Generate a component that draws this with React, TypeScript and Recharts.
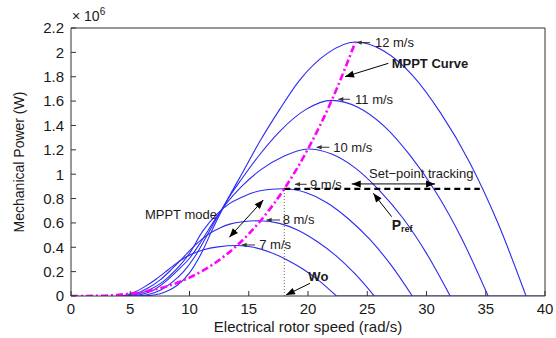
import { LineChart, Line, XAxis, YAxis, ReferenceLine, ReferenceDot } from 'recharts';

// rotor speed (rad/s), mechanical power (x 10^6 W)
const curve7 = [[4.2, 0], [5.2, 0.025], [6.2, 0.075], [7.2, 0.14], [8.2, 0.215], [9.2, 0.29], [10.2, 0.345], [11.2, 0.38], [12.4, 0.403], [14.0, 0.414], [15.4, 0.4], [16.8, 0.36], [18.2, 0.298], [19.6, 0.219], [21.0, 0.12], [22.4, 0]];
const curve8 = [[4.5, 0], [5.5, 0.02], [6.5, 0.065], [7.5, 0.13], [8.5, 0.22], [9.5, 0.32], [10.5, 0.42], [11.5, 0.5], [12.6, 0.56], [13.4, 0.59], [14.5, 0.61], [16.0, 0.618], [17.6, 0.596], [19.2, 0.538], [20.8, 0.445], [22.4, 0.328], [24.0, 0.179], [25.6, 0]];
const curve9 = [[4.8, 0], [5.8, 0.02], [6.8, 0.06], [7.8, 0.12], [8.8, 0.21], [10.0, 0.35], [11.1, 0.53], [12.3, 0.67], [13.4, 0.76], [14.4, 0.81], [15.4, 0.85], [16.5, 0.872], [18.0, 0.88], [19.8, 0.849], [21.6, 0.766], [23.4, 0.634], [25.2, 0.466], [27.0, 0.255], [28.8, 0]];
const curve10 = [[5.0, 0], [6.0, 0.015], [7.0, 0.05], [8.0, 0.12], [9.0, 0.21], [10.0, 0.31], [11.0, 0.45], [12.3, 0.65], [13.2, 0.77], [14.4, 0.9], [16.0, 1.035], [18.0, 1.15], [20.0, 1.207], [22.0, 1.165], [24.0, 1.05], [26.0, 0.869], [28.0, 0.64], [30.0, 0.35], [32.0, 0]];
const curve11 = [[5.5, 0], [6.5, 0.012], [7.5, 0.045], [8.5, 0.11], [9.5, 0.2], [10.5, 0.33], [11.5, 0.5], [12.3, 0.64], [13.2, 0.79], [14.4, 0.96], [16.0, 1.17], [17.6, 1.35], [19.8, 1.53], [22.0, 1.606], [24.2, 1.55], [26.4, 1.397], [28.6, 1.156], [30.8, 0.851], [33.0, 0.466], [35.2, 0]];
const curve12 = [[6.0, 0], [7.0, 0.008], [8.0, 0.035], [9.0, 0.09], [10.0, 0.19], [11.0, 0.35], [12.0, 0.56], [13.2, 0.79], [14.4, 1.0], [16.0, 1.28], [17.6, 1.53], [19.2, 1.76], [21.6, 1.99], [24.0, 2.085], [26.4, 2.012], [28.8, 1.814], [31.2, 1.501], [33.6, 1.105], [36.0, 0.605], [38.4, 0]];
const baseTail = [[22.4, 0], [40, 0]];
const mpptCurve = [[0, 0], [2, 0.001], [4, 0.01], [6, 0.033], [8, 0.077], [10, 0.151], [12, 0.261], [14, 0.414], [16, 0.618], [18, 0.88], [20, 1.207], [22, 1.606], [24, 2.085]];
const prefLine = [[18, 0.88], [34.5, 0.88]];
const woLine = [[18, 0], [18, 0.88]];

const xTicks = [0, 5, 10, 15, 20, 25, 30, 35, 40];
const yTicks = [0, 0.2, 0.4, 0.6, 0.8, 1, 1.2, 1.4, 1.6, 1.8, 2, 2.2];

const windCurves = [curve7, curve8, curve9, curve10, curve11, curve12];

// annotation text: [label, x, y, bold]
const notes: [string, number, number, boolean][] = [
  ['12 m/s', 25.65, 2.08, false],
  ['11 m/s', 23.97, 1.615, false],
  ['10 m/s', 22.13, 1.221, false],
  ['9 m/s', 20.17, 0.917, false],
  ['8 m/s', 17.86, 0.624, false],
  ['7 m/s', 15.89, 0.419, false],
  ['MPPT Curve', 27.06, 1.91, true],
  ['Set\u2212point tracking', 25.15, 1.007, false],
  ['MPPT mode', 6.24, 0.665, false],
  ['Wo', 20.03, 0.158, true],
];
const prefNote = [27.06, 0.583];

// arrows: [tailX, tailY, headX, headY, big, doubleHeaded]
const arrows: [number, number, number, number, boolean, boolean][] = [
  [25.23, 2.08, 24.11, 2.08, false, false],
  [23.54, 1.615, 22.56, 1.615, false, false],
  [21.8, 1.221, 20.73, 1.221, false, false],
  [19.89, 0.917, 18.9, 0.917, false, false],
  [17.64, 0.624, 16.51, 0.624, false, false],
  [15.53, 0.419, 14.4, 0.419, false, false],
  [26.78, 1.91, 23.12, 1.8, true, false],
  [23.69, 0.92, 30.72, 0.92, true, true],
  [27.06, 0.651, 25.51, 0.843, true, false],
  [13.36, 0.482, 16.23, 0.788, true, true],
  [20.17, 0.104, 18.14, 0.008, true, false],
];

const toPts = (c: number[][]) => c.map(([w, p]) => ({ w, p }));

const FONT = '"Liberation Sans", Arial, Helvetica, sans-serif';
const INK = '#1a1a1a';
const BLUE = '#2b2bf0';

const arrowShape = (big: boolean, both: boolean) => (props: any) => {
  const { x1, y1, x2, y2 } = props;
  const len = big ? 9 : 5;
  const half = big ? 3.5 : 2.2;
  const color = big ? '#000' : '#333';
  const head = (ax: number, ay: number, bx: number, by: number) => {
    const dx = bx - ax;
    const dy = by - ay;
    const d = Math.hypot(dx, dy) || 1;
    const ux = dx / d;
    const uy = dy / d;
    const baseX = bx - ux * len;
    const baseY = by - uy * len;
    return `${bx},${by} ${baseX - uy * half},${baseY + ux * half} ${baseX + uy * half},${baseY - ux * half}`;
  };
  return (
    <g>
      <line x1={x1} y1={y1} x2={x2} y2={y2} stroke={color} strokeWidth={1} />
      <polygon points={head(x1, y1, x2, y2)} fill={color} />
      {both && <polygon points={head(x2, y2, x1, y1)} fill={color} />}
    </g>
  );
};

const noteLabel = (text: string, bold: boolean) => (props: any) => {
  const { viewBox } = props;
  return (
    <text x={viewBox.x} y={viewBox.y} dominantBaseline="central" fontSize={13} fontWeight={bold ? 'bold' : 'normal'} fill={INK} fontFamily={FONT}>
      {text}
    </text>
  );
};

const prefLabel = (props: any) => {
  const { viewBox } = props;
  return (
    <text x={viewBox.x} y={viewBox.y} dominantBaseline="central" fontSize={14} fontWeight="bold" fill={INK} fontFamily={FONT}>
      P<tspan fontSize={9} dy={4}>ref</tspan>
    </text>
  );
};

const yTitle = (props: any) => {
  const { viewBox } = props;
  const cx = viewBox.x + 19;
  const cy = viewBox.y + viewBox.height / 2;
  return (
    <g fontFamily={FONT} fill={INK}>
      <text x={cx} y={cy} transform={`rotate(-90 ${cx} ${cy})`} textAnchor="middle" dominantBaseline="central" fontSize={14}>
        Mechanical Power (W)
      </text>
      <text x={viewBox.x + viewBox.width + 1} y={viewBox.y - 7} fontSize={14}>
        {'\u00d7 10'}<tspan fontSize={10} dy={-6}>6</tspan>
      </text>
    </g>
  );
};

export default function App() {
  return (
    <div style={{ position: 'absolute', left: 0, top: 0, width: 556, height: 338, background: '#fff', fontFamily: FONT }}>
      <LineChart width={556} height={338} margin={{ top: 18, right: 1, bottom: 0, left: 0 }}>
        <XAxis
          dataKey="w"
          type="number"
          domain={[0, 40]}
          ticks={xTicks}
          allowDataOverflow
          height={42}
          tickSize={-5}
          tickMargin={12}
          stroke="#333"
          tick={{ fill: INK, fontSize: 15 }}
          label={{ value: 'Electrical rotor speed (rad/s)', position: 'insideBottom', offset: 6, fontSize: 15, fill: INK }}
        />
        <XAxis xAxisId="top" orientation="top" type="number" domain={[0, 40]} ticks={xTicks} allowDataOverflow height={10} tickSize={-5} tick={false} stroke="#333" />
        <YAxis
          type="number"
          domain={[0, 2.2]}
          ticks={yTicks}
          allowDataOverflow
          width={71}
          tickSize={-5}
          tickMargin={12}
          stroke="#333"
          tick={{ fill: INK, fontSize: 15 }}
          label={yTitle}
        />
        <YAxis yAxisId="right" orientation="right" type="number" domain={[0, 2.2]} ticks={yTicks} allowDataOverflow width={10} tickSize={-5} tick={false} stroke="#333" />
        {windCurves.map((c, i) => (
          <Line key={i} data={toPts(c)} dataKey="p" type="monotone" stroke={BLUE} strokeWidth={1.1} dot={false} activeDot={false} isAnimationActive={false} />
        ))}
        <Line data={toPts(baseTail)} dataKey="p" type="linear" stroke={BLUE} strokeWidth={1.2} dot={false} activeDot={false} isAnimationActive={false} />
        <Line data={toPts(woLine)} dataKey="p" type="linear" stroke="#666" strokeWidth={1} strokeDasharray="1 2" dot={false} activeDot={false} isAnimationActive={false} />
        <Line data={toPts(prefLine)} dataKey="p" type="linear" stroke="#000" strokeWidth={2.2} strokeDasharray="6 4" dot={false} activeDot={false} isAnimationActive={false} />
        <Line data={toPts(mpptCurve)} dataKey="p" type="monotone" stroke="#ff00ff" strokeWidth={2.6} strokeDasharray="7 3 2 3" dot={false} activeDot={false} isAnimationActive={false} />
        {arrows.map(([tx, ty, hx, hy, big, both], i) => (
          <ReferenceLine key={`a${i}`} segment={[{ x: tx, y: ty }, { x: hx, y: hy }]} ifOverflow="visible" shape={arrowShape(big, both)} />
        ))}
        {notes.map(([text, x, y, bold], i) => (
          <ReferenceDot key={`n${i}`} x={x} y={y} r={0} fill="none" stroke="none" ifOverflow="visible" label={noteLabel(text, bold)} />
        ))}
        <ReferenceDot x={prefNote[0]} y={prefNote[1]} r={0} fill="none" stroke="none" ifOverflow="visible" label={prefLabel} />
      </LineChart>
    </div>
  );
}
